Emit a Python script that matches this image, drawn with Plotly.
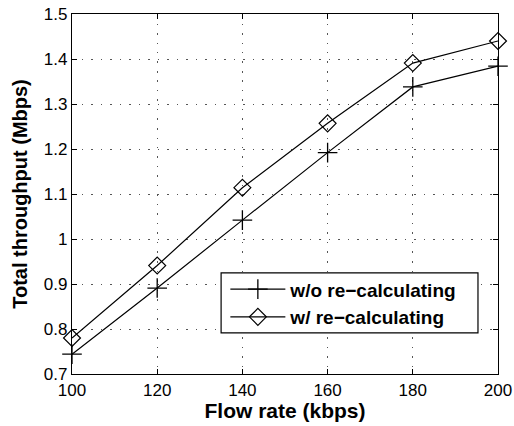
import plotly.graph_objects as go

# Flow rate (kbps) and total throughput (Mbps)
flow_rate = [100, 120, 140, 160, 180, 200]
thr_without = [0.744, 0.891, 1.042, 1.192, 1.338, 1.384]
thr_with = [0.780, 0.941, 1.114, 1.257, 1.391, 1.440]

x_ticks = [100, 120, 140, 160, 180, 200]
y_ticks = [0.7, 0.8, 0.9, 1.0, 1.1, 1.2, 1.3, 1.4, 1.5]
y_tick_text = ["0.7", "0.8", "0.9", "1", "1.1", "1.2", "1.3", "1.4", "1.5"]

FONT = "Liberation Sans, Arial, Helvetica, sans-serif"

fig = go.Figure()
fig.add_trace(go.Scatter(
    x=flow_rate, y=thr_without, mode="lines+markers",
    name="<b>w/o re\u2212calculating</b>",
    line=dict(color="black", width=1.2),
    marker=dict(symbol="cross-thin", size=14, color="black",
                line=dict(color="black", width=1.3)),
    cliponaxis=False,
))
fig.add_trace(go.Scatter(
    x=flow_rate, y=thr_with, mode="lines+markers",
    name="<b>w/ re\u2212calculating</b>",
    line=dict(color="black", width=1.2),
    marker=dict(symbol="diamond-open", size=13, color="black",
                line=dict(color="black", width=1.2)),
    cliponaxis=False,
))

axis_common = dict(
    showline=True, linecolor="black", linewidth=1.2, mirror="allticks",
    ticks="inside", ticklen=5, tickcolor="black", tickwidth=1,
    showgrid=True, gridcolor="#555555", gridwidth=1.2, griddash="1.5px,8px",
    zeroline=False, automargin=False,
    tickfont=dict(family=FONT, size=17, color="black"),
)

fig.update_xaxes(
    range=[100, 200], tickvals=x_ticks,
    title=dict(text="<b>Flow rate (kbps)</b>", standoff=4,
               font=dict(family=FONT, size=21, color="black")),
    **axis_common,
)
fig.update_yaxes(
    range=[0.7, 1.5], tickvals=y_ticks, ticktext=y_tick_text,
    title=dict(text="<b>Total throughput (Mbps)</b>", standoff=10,
               font=dict(family=FONT, size=20, color="black")),
    **axis_common,
)

# Legend frame drawn as a white box with a black border
fig.add_shape(
    type="rect", xref="paper", yref="paper",
    x0=0.350, x1=0.953, y0=0.114, y1=0.281,
    line=dict(color="black", width=1.2), fillcolor="white", layer="above",
)

fig.update_layout(
    width=514, height=426,
    margin=dict(l=72, r=16, t=14, b=52),
    paper_bgcolor="white", plot_bgcolor="white",
    showlegend=True,
    legend=dict(
        x=0.36, y=0.288, xanchor="left", yanchor="top",
        bgcolor="rgba(0,0,0,0)", borderwidth=0,
        font=dict(family=FONT, size=19, color="black"),
        itemwidth=55, tracegroupgap=0,
    ),
    font=dict(family=FONT, color="black"),
)

fig.write_html("out.html")
